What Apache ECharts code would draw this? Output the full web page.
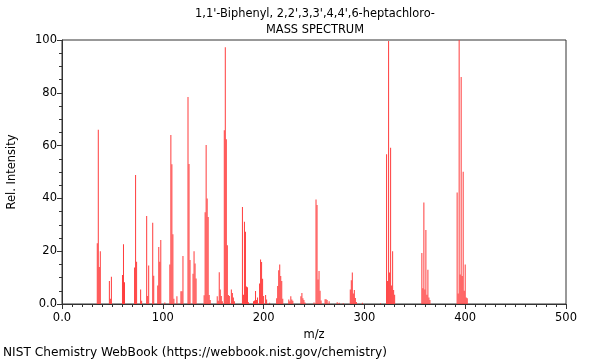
<!DOCTYPE html>
<html>
<head>
<meta charset="utf-8">
<script src="https://cdn.jsdelivr.net/npm/echarts@6/dist/echarts.min.js"></script>
<style>
  html, body { margin: 0; padding: 0; background: #fff; }
  #chart { width: 600px; height: 360px; }
</style>
</head>
<body>
<div id="chart"></div>
<script>
const titleLine1 = "1,1'-Biphenyl, 2,2',3,3',4,4',6-heptachloro-";
const titleLine2 = "MASS SPECTRUM";
const xAxisName = "m/z";
const yAxisName = "Rel. Intensity";
const footer = "NIST Chemistry WebBook (https://webbook.nist.gov/chemistry)";

const mz = [
  35, 36, 37, 38, 47, 48, 49, 60, 61, 62,
  72, 73, 74, 78, 79, 84, 85, 86, 90, 91,
  95, 96, 97, 98, 102, 107, 108, 109, 110, 111,
  114, 118, 119, 120, 125, 126, 127, 130, 131, 132,
  133, 141, 142, 143, 144, 145, 146, 147, 154, 155,
  156, 157, 158, 159, 161, 162, 163, 164, 165, 166,
  168, 169, 170, 171, 179, 180, 181, 182, 183, 184,
  185, 190, 191, 192, 193, 194, 196, 197, 198, 199,
  200, 202, 203, 206, 213, 214, 215, 216, 217, 218,
  219, 225, 226, 227, 228, 229, 237, 238, 239, 240,
  241, 250, 252, 253, 254, 255, 256, 257, 261, 262,
  263, 265, 273, 275, 279, 286, 287, 288, 289, 290,
  291, 292, 298, 316, 322, 323, 324, 325, 326, 327,
  328, 329, 330, 357, 358, 359, 360, 361, 362, 363,
  364, 365, 392, 393, 394, 395, 396, 397, 398, 399,
  400, 401, 402
];
const intensity = [
  23, 66, 14, 20, 8.7, 2, 10.3, 11, 22.6, 8.2,
  13.8, 48.9, 16, 5.5, 1.2, 33.3, 3, 14.6, 30.8, 10.7,
  7, 21.6, 16, 24.2, 0.6, 15, 64, 52.9, 26.4, 2,
  2.9, 4.8, 4.8, 18.2, 78.4, 53, 16.7, 11.5, 20, 15.3,
  9.7, 3.3, 34.8, 60.2, 40, 33, 3.4, 1.5, 2.9, 1.2,
  12, 5.5, 3, 1, 65.8, 97.3, 62.4, 22.3, 3.4, 3,
  5.5, 4.2, 2.5, 1, 36.7, 3.5, 31.2, 27.4, 6.6, 6.3,
  0.7, 1, 1.3, 4.9, 1.5, 2.5, 7.8, 16.9, 15.9, 9.6,
  3, 3.4, 1.7, 0.5, 2.2, 6.8, 12.8, 15, 10.6, 8.7,
  2, 1.7, 1, 2.9, 1.7, 1.2, 2.9, 4.2, 2.2, 1.5,
  0.6, 0.6, 39.6, 37.5, 9.3, 12.5, 5, 1.3, 1.8, 1.8,
  1.5, 1, 0.7, 0.5, 0.3, 5.5, 9, 11.9, 4, 5.3,
  2.3, 0.8, 0.5, 0.3, 56.7, 8.7, 99.6, 11.9, 59.2, 7,
  20, 5.3, 3.5, 19.3, 6, 38.4, 5.5, 28, 3.5, 13,
  2.5, 1.5, 42.2, 4, 100, 11.2, 86, 10.6, 50.1, 5,
  15, 2.5, 2.2
];

const FONT = 'DejaVu Sans';
const chart = echarts.init(document.getElementById('chart'), null, { renderer: 'canvas' });

const zeroFmt = v => (v === 0 ? '0.0' : String(v));

chart.setOption({
  animation: false,
  backgroundColor: '#fff',
  grid: {
    left: 62, right: 34, top: 40, bottom: 56,
    containLabel: false, outerBoundsMode: 'none',
    show: true, borderColor: '#333', borderWidth: 1, backgroundColor: 'transparent'
  },
  graphic: [
    { type: 'text', x: 315, y: 14, style: { text: titleLine1, font: '11.4px "' + FONT + '"', fill: '#000', textAlign: 'center', textVerticalAlign: 'middle' } },
    { type: 'text', x: 315, y: 30, style: { text: titleLine2, font: '11.4px "' + FONT + '"', fill: '#000', textAlign: 'center', textVerticalAlign: 'middle' } },
    { type: 'text', x: 3, y: 353, style: { text: footer, font: '12.2px "' + FONT + '"', fill: '#000', textAlign: 'left', textVerticalAlign: 'middle' } }
  ],
  xAxis: {
    type: 'value', min: 0, max: 500, interval: 100,
    name: xAxisName, nameLocation: 'middle', nameGap: 23,
    nameTextStyle: { fontFamily: FONT, fontSize: 11.5, color: '#000' },
    axisLine: { show: true, lineStyle: { color: '#333', width: 1 } },
    axisTick: { show: true, inside: false, length: 5, lineStyle: { color: '#333' } },
    minorTick: { show: true, splitNumber: 10, length: 3, lineStyle: { color: '#333' } },
    splitLine: { show: false },
    axisLabel: { fontFamily: FONT, fontSize: 11.5, color: '#000', margin: 8, formatter: zeroFmt }
  },
  yAxis: {
    type: 'value', min: 0, max: 100, interval: 20,
    name: yAxisName, nameLocation: 'middle', nameGap: 44, nameRotate: 90,
    nameTextStyle: { fontFamily: FONT, fontSize: 11.5, color: '#000' },
    axisLine: { show: true, lineStyle: { color: '#333', width: 1 } },
    axisTick: { show: true, inside: false, length: 5, lineStyle: { color: '#333' } },
    minorTick: { show: true, splitNumber: 4, length: 3, lineStyle: { color: '#333' } },
    splitLine: { show: false },
    axisLabel: { fontFamily: FONT, fontSize: 11.5, color: '#000', margin: 5, formatter: zeroFmt }
  },
  series: [{
    type: 'bar',
    data: mz.map((m, i) => [m, intensity[i]]),
    barWidth: 1,
    itemStyle: { color: 'rgb(255,60,60)' },
    silent: true
  }]
});
</script>
</body>
</html>
